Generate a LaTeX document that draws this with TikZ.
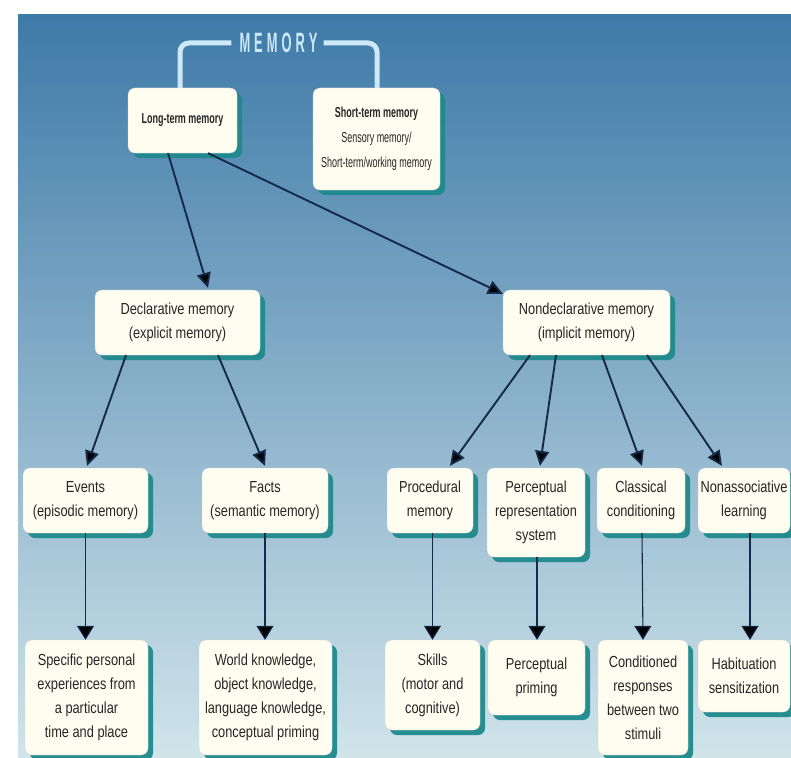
\documentclass[tikz,border=0pt]{standalone}
\usepackage{fontspec}
\setmainfont{Liberation Sans}[FakeStretch=0.8]
\newfontfamily\topfont{Liberation Sans}[FakeStretch=0.62]
\newfontfamily\memfont{Liberation Sans}[FakeStretch=0.46]
\usetikzlibrary{arrows.meta,shadows}
\definecolor{bgtop}{HTML}{3E7AA8}
\definecolor{bgmid}{HTML}{86ADC8}
\definecolor{bgbot}{HTML}{D0E4EA}
\definecolor{cream}{HTML}{FFFDF0}
\definecolor{shteal}{HTML}{1E8A8C}
\definecolor{brack}{HTML}{CDE8F6}
\definecolor{navy}{HTML}{15294A}
\definecolor{txt}{HTML}{262626}
\tikzset{
  box/.style={draw=gray!35, line width=0.3pt, fill=cream, rounded corners=7pt,
    align=center, inner sep=2pt, text=txt,
    font=\fontsize{16}{24}\selectfont,
    drop shadow={shadow xshift=5pt, shadow yshift=-5pt, fill=shteal, opacity=0.95}},
  topbox/.style={box, font=\topfont\fontsize{14.5}{25}\selectfont},
  diag/.style={draw=navy, line width=1.9pt, -{Triangle[length=15pt,width=14pt,fill=black]}},
  vert/.style={draw=navy, line width=1.1pt, -{Triangle[length=14pt,width=17pt,fill=black]}},
  brk/.style={draw=brack, line width=5pt, rounded corners=9pt}
}
\begin{document}
\begin{tikzpicture}[x=1pt,y=-1pt]
\useasboundingbox (0,0) rectangle (791,757);
\fill[white] (0,0) rectangle (791,757);
\shade[top color=bgtop, middle color=bgmid, bottom color=bgbot] (18,15) rectangle (791,757);

% title
\node[inner sep=0pt, text=brack, font=\memfont\bfseries\fontsize{28}{28}\selectfont] (mem) at (278.5,43)
  {M\hspace{4pt}E\hspace{4pt}M\hspace{4pt}O\hspace{4pt}R\hspace{4pt}Y};

% top row
\node[topbox, minimum width=109pt, minimum height=65pt] (lt) at (182.5,120.5) {\bfseries Long-term memory};
\node[topbox, minimum width=127pt, minimum height=102pt] (st) at (376.5,139) {\bfseries Short-term memory\\Sensory memory/\\Short-term/working memory};

\draw[brk] ([xshift=-2.5pt]lt.north) |- ([xshift=-8pt]mem.west);
\draw[brk] ([xshift=6pt]mem.east) -| ([xshift=0.5pt]st.north);

% second row
\node[box, minimum width=165pt, minimum height=65pt] (dc) at (177.5,322.5) {Declarative memory\\(explicit memory)};
\node[box, minimum width=167pt, minimum height=65pt] (nd) at (586.5,322.5) {Nondeclarative memory\\(implicit memory)};

% third row
\node[box, minimum width=125pt, minimum height=65pt] (ev) at (85.5,500.5) {Events\\(episodic memory)};
\node[box, minimum width=126pt, minimum height=65pt] (fa) at (265,500.5) {Facts\\(semantic memory)};
\node[box, minimum width=86pt, minimum height=65pt] (pr) at (430,500.5) {Procedural\\memory};
\node[box, minimum width=98pt, minimum height=89pt] (pe) at (536,512.5) {Perceptual\\representation\\system};
\node[box, minimum width=88pt, minimum height=65pt] (cl) at (641,500.5) {Classical\\conditioning};
\node[box, minimum width=92pt, minimum height=65pt] (na) at (744,500.5) {Nonassociative\\learning};

% bottom row
\node[box, minimum width=123pt, minimum height=115pt] (sp) at (86.5,697.5) {Specific personal\\experiences from\\a particular\\time and place};
\node[box, minimum width=133pt, minimum height=115pt] (wk) at (265.5,697.5) {World knowledge,\\object knowledge,\\language knowledge,\\conceptual priming};
\node[box, minimum width=95pt, minimum height=90pt] (sk) at (432.5,685) {Skills\\(motor and\\cognitive)};
\node[box, minimum width=97pt, minimum height=75pt] (pp) at (536.5,677.5) {Perceptual\\priming};
\node[box, minimum width=90pt, minimum height=115pt] (co) at (643,697.5) {Conditioned\\responses\\between two\\stimuli};
\node[box, minimum width=92pt, minimum height=72pt] (hb) at (744,676) {Habituation\\sensitization};

% diagonal arrows
\draw[diag] ([xshift=-14.5pt]lt.south) -- ([xshift=30.5pt,yshift=2pt]dc.north);
\draw[diag] ([xshift=25.5pt]lt.south) -- ([yshift=-4pt]nd.north west);
\draw[diag] ([xshift=-51.5pt]dc.south) -- ([xshift=1.5pt,yshift=2pt]ev.north);
\draw[diag] ([xshift=40.5pt]dc.south) -- ([yshift=2pt]fa.north);
\draw[diag] ([xshift=-56.5pt]nd.south) -- ([xshift=20pt,yshift=2pt]pr.north);
\draw[diag] ([xshift=-30.5pt]nd.south) -- ([xshift=4pt,yshift=2pt]pe.north);
\draw[diag] ([xshift=15.5pt]nd.south) -- ([xshift=1pt,yshift=2pt]cl.north);
\draw[diag] ([xshift=60.5pt]nd.south) -- ([xshift=-22pt,yshift=2pt]na.north);

% vertical arrows
\draw[vert] (ev.south) -- (ev.south |- sp.north);
\draw[vert] (fa.south) -- (fa.south |- wk.north);
\draw[vert] ([xshift=2.5pt]pr.south) -- (sk.north);
\draw[vert] ([xshift=1pt]pe.south) -- ([xshift=0.5pt]pp.north);
\draw[vert] ([xshift=1pt]cl.south) -- (co.north);
\draw[vert] ([xshift=6pt]na.south) -- ([xshift=6pt]hb.north);
\end{tikzpicture}
\end{document}
